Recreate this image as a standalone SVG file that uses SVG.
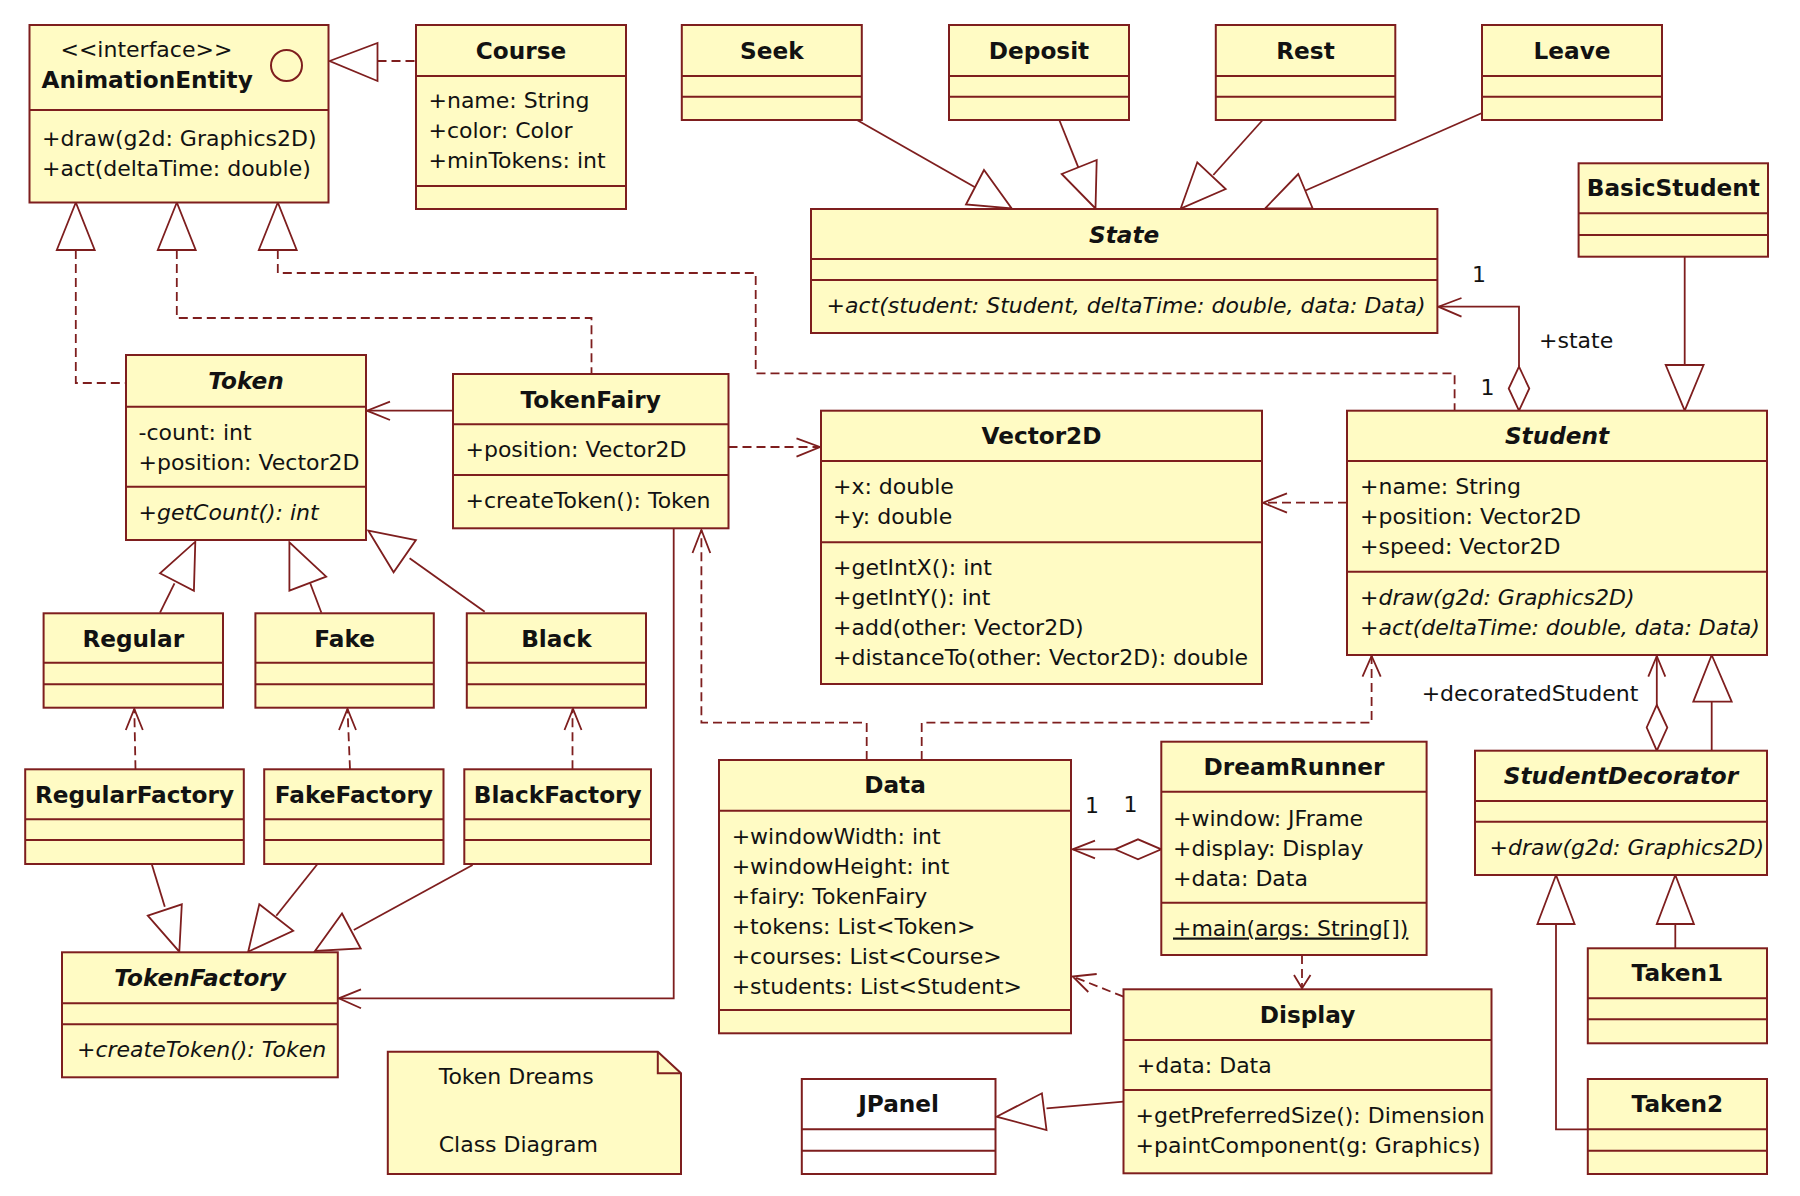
<svg xmlns="http://www.w3.org/2000/svg" width="1800" height="1196" viewBox="0 0 1800 1196">
<style>
  .cls { fill:#FFFBC4; stroke:#7E1E1E; stroke-width:2; }
  .lib { fill:#FFFFFF; stroke:#7E1E1E; stroke-width:2; }
  .sep { stroke:#7E1E1E; stroke-width:2; fill:none; }
  text { font-family:"DejaVu Sans", "Liberation Sans", sans-serif; font-size:22px; fill:#121212; }
  .n { font-weight:bold; font-size:23.2px; text-anchor:middle; }
  .b { font-weight:bold; font-size:23.2px; }
  .i { font-style:italic; }
  .u { text-decoration:underline; }
  .ln { fill:none; stroke:#7E1E1E; stroke-width:1.8; }
  .dash { stroke-dasharray:9 5; }
  .tri { fill:#FFFFFF; stroke:#7E1E1E; stroke-width:1.8; stroke-linejoin:miter; }
</style>
<rect width="1800" height="1196" fill="#FFFFFF"/>

<!-- connectors -->
<g id="connectors">
  <!-- Course realizes AnimationEntity -->
  <path class="ln dash" d="M377.5,61 H416"/>
  <polygon class="tri" points="329.6,61 377.5,43 377.5,81"/>
  <!-- Token realizes AnimationEntity -->
  <path class="ln dash" d="M75.8,250 V383 H126"/>
  <polygon class="tri" points="75.8,202.5 56.8,250 94.7,250"/>
  <!-- TokenFairy realizes AnimationEntity -->
  <path class="ln dash" d="M176.8,250 V318 H591.5 V374"/>
  <polygon class="tri" points="176.8,202.5 157.8,250 195.7,250"/>
  <!-- Student realizes AnimationEntity -->
  <path class="ln dash" d="M277.8,250 V273 H755.7 V373.3 H1454.6 V410.7"/>
  <polygon class="tri" points="277.8,202.5 258.8,250 296.7,250"/>

  <!-- states extend State -->
  <path class="ln" d="M857,120 L975,187.3"/>
  <polygon class="tri" points="984,170 966,204.5 1011.7,208.5"/>
  <path class="ln" d="M1059.3,120 L1078.3,167.3"/>
  <polygon class="tri" points="1061.7,174 1096.7,160 1095.5,208.5"/>
  <path class="ln" d="M1262.7,120 L1213.3,175"/>
  <polygon class="tri" points="1197.3,162.3 1225.7,189 1180.7,208.5"/>
  <path class="ln" d="M1482,113 L1305,190.7"/>
  <polygon class="tri" points="1298.3,174 1265,208.5 1312.7,208.5"/>

  <!-- Student has a State -->
  <path class="ln" d="M1519,366.7 V306.7 H1438.4"/>
  <path class="ln" d="M1461.5,298 L1438.4,306.7 L1461.5,316.7"/>
  <polygon class="tri" points="1519,366.7 1529.3,388.5 1519,410.7 1508.7,388.5"/>
  <text x="1472" y="281.5">1</text>
  <text x="1539" y="348">+state</text>
  <text x="1480.5" y="395">1</text>

  <!-- BasicStudent extends Student -->
  <path class="ln" d="M1684.7,256.7 V365"/>
  <polygon class="tri" points="1665.7,365 1703.6,365 1684.7,410.7"/>

  <!-- TokenFairy uses Token -->
  <path class="ln" d="M453,410.7 H367"/>
  <path class="ln" d="M390,401.7 L367,410.7 L390,420"/>

  <!-- TokenFairy depends on Vector2D -->
  <path class="ln dash" d="M728.5,447 H820"/>
  <path class="ln" d="M796.5,438.3 L820,447 L796.5,456.7"/>

  <!-- Student depends on Vector2D -->
  <path class="ln dash" d="M1347,502.7 H1263"/>
  <path class="ln" d="M1287,493.3 L1263,502.7 L1287,512.7"/>

  <!-- token kinds extend Token -->
  <path class="ln" d="M160,612.7 L174.5,583.3"/>
  <polygon class="tri" points="160,573.3 193.9,590.7 195.3,541.7"/>
  <path class="ln" d="M321.4,612.7 L310.2,583.3"/>
  <polygon class="tri" points="289.4,542.3 289.4,590.7 326.2,576.7"/>
  <path class="ln" d="M484.7,611.7 L409.6,558.3"/>
  <polygon class="tri" points="368.4,530.7 415.9,540 393.6,572.3"/>

  <!-- factories create their token kinds -->
  <path class="ln dash" d="M135.5,769.3 L134.3,709"/>
  <path class="ln" d="M125.8,730 L134.3,709 L142.8,730"/>
  <path class="ln dash" d="M350,769.3 L347.5,709"/>
  <path class="ln" d="M339,730 L347.5,709 L356,730"/>
  <path class="ln dash" d="M572.5,769.3 V709"/>
  <path class="ln" d="M564.5,730 L573,709 L581.5,730"/>

  <!-- factories extend TokenFactory -->
  <path class="ln" d="M151.7,864 L164.8,906.7"/>
  <polygon class="tri" points="147.8,915.7 181.8,904.3 179.3,951.7"/>
  <path class="ln" d="M317.5,864 L276.3,915.7"/>
  <polygon class="tri" points="259.3,904.3 293.2,930.7 248.2,951.7"/>
  <path class="ln" d="M472.6,865 L353.8,930"/>
  <polygon class="tri" points="342,913.5 360.7,948.5 315,951"/>

  <!-- TokenFairy uses TokenFactory -->
  <path class="ln" d="M673.7,528.3 V998.3 H338.8"/>
  <path class="ln" d="M361,989.3 L338.8,998.3 L361,1008.3"/>

  <!-- Data depends on TokenFairy and Student -->
  <path class="ln dash" d="M866.7,760 V722.7 H701.4 V530"/>
  <path class="ln" d="M692.5,553 L701.4,530 L710.3,553"/>
  <path class="ln dash" d="M921.7,760 V722.7 H1371.6 V656"/>
  <path class="ln" d="M1362.5,676.7 L1371.6,656 L1380.7,676.7"/>

  <!-- StudentDecorator wraps a Student -->
  <path class="ln" d="M1656.8,656 V705"/>
  <path class="ln" d="M1648.3,676.7 L1656.8,656 L1665.3,676.7"/>
  <polygon class="tri" points="1656.8,705 1667.3,727.5 1656.8,750.7 1646.7,727.5"/>
  <text x="1421.7" y="701">+decoratedStudent</text>

  <!-- StudentDecorator extends Student -->
  <path class="ln" d="M1711.7,701.7 V750.7"/>
  <polygon class="tri" points="1711.7,655 1693.3,701.7 1731.7,701.7"/>

  <!-- DreamRunner holds Data -->
  <path class="ln" d="M1072.7,849.3 H1114.9"/>
  <path class="ln" d="M1095,840.7 L1072.7,849.3 L1095,858.3"/>
  <polygon class="tri" points="1114.9,849.3 1138,839.3 1161.3,849.3 1138,859.3"/>
  <text x="1085" y="813">1</text>
  <text x="1123.5" y="811.5">1</text>

  <!-- DreamRunner depends on Display -->
  <path class="ln dash" d="M1302,955 V988.3"/>
  <path class="ln" d="M1294,975 L1302,988.3 L1310.5,975"/>

  <!-- Display depends on Data -->
  <path class="ln dash" d="M1123.5,996.7 L1072.7,976.5"/>
  <path class="ln" d="M1096.7,974 L1072.7,976.5 L1088.3,992"/>

  <!-- Display extends JPanel -->
  <path class="ln" d="M1123.5,1101.7 L1046.5,1108.3"/>
  <polygon class="tri" points="996.5,1116.7 1041.9,1093.3 1046.5,1130"/>

  <!-- Taken1 and Taken2 extend StudentDecorator -->
  <path class="ln" d="M1675.3,948.3 V924"/>
  <polygon class="tri" points="1656.8,924 1693.9,924 1675.3,875"/>
  <path class="ln" d="M1587.8,1129.3 H1556 V924"/>
  <polygon class="tri" points="1537.4,924 1574.6,924 1556,875"/>
</g>

<!-- classes -->
<g id="AnimationEntity">
  <rect class="cls" x="29.5" y="25" width="299" height="177.5"/>
  <path class="sep" d="M29.5,110 H328.5"/>
  <text x="60.5" y="57">&lt;&lt;interface&gt;&gt;</text>
  <text class="b" x="41.5" y="88">AnimationEntity</text>
  <circle cx="286.5" cy="65.5" r="15.5" fill="none" stroke="#7E1E1E" stroke-width="2"/>
  <text x="42" y="146">+draw(g2d: Graphics2D)</text>
  <text x="42" y="176">+act(deltaTime: double)</text>
</g>

<g id="Course">
  <rect class="cls" x="416" y="25" width="210" height="184"/>
  <path class="sep" d="M416,76 H626 M416,186 H626"/>
  <text class="n" x="521" y="58.5">Course</text>
  <text x="428.5" y="108">+name: String</text>
  <text x="428.5" y="138">+color: Color</text>
  <text x="428.5" y="168">+minTokens: int</text>
</g>

<g id="Seek">
  <rect class="cls" x="681.8" y="25" width="180" height="95"/>
  <path class="sep" d="M681.8,76 H861.8 M681.8,96.7 H861.8"/>
  <text class="n" x="771.8" y="58.5">Seek</text>
</g>

<g id="Deposit">
  <rect class="cls" x="949" y="25" width="180" height="95"/>
  <path class="sep" d="M949,76 H1129 M949,96.7 H1129"/>
  <text class="n" x="1039" y="58.5">Deposit</text>
</g>

<g id="Rest">
  <rect class="cls" x="1215.8" y="25" width="179.5" height="95"/>
  <path class="sep" d="M1215.8,76 H1395.3 M1215.8,96.7 H1395.3"/>
  <text class="n" x="1305.5" y="58.5">Rest</text>
</g>

<g id="Leave">
  <rect class="cls" x="1482" y="25" width="180" height="95"/>
  <path class="sep" d="M1482,76 H1662 M1482,96.7 H1662"/>
  <text class="n" x="1572" y="58.5">Leave</text>
</g>

<g id="State">
  <rect class="cls" x="811" y="209" width="626.4" height="124"/>
  <path class="sep" d="M811,259 H1437.4 M811,280 H1437.4"/>
  <text class="n i" x="1124.2" y="242.5">State</text>
  <text class="i" x="826.5" y="313">+act(student: Student, deltaTime: double, data: Data)</text>
</g>

<g id="BasicStudent">
  <rect class="cls" x="1578.6" y="163.3" width="189.4" height="93.4"/>
  <path class="sep" d="M1578.6,213.3 H1768 M1578.6,235 H1768"/>
  <text class="n" x="1673.3" y="196">BasicStudent</text>
</g>

<g id="Token">
  <rect class="cls" x="126" y="355" width="240" height="185"/>
  <path class="sep" d="M126,406.7 H366 M126,486.7 H366"/>
  <text class="n i" x="246" y="389">Token</text>
  <text x="138.5" y="439.5">-count: int</text>
  <text x="138.5" y="469.5">+position: Vector2D</text>
  <text class="i" x="138.5" y="519.5">+getCount(): int</text>
</g>

<g id="TokenFairy">
  <rect class="cls" x="453" y="374" width="275.5" height="154.3"/>
  <path class="sep" d="M453,424.3 H728.5 M453,475 H728.5"/>
  <text class="n" x="590.7" y="407.5">TokenFairy</text>
  <text x="465.5" y="457">+position: Vector2D</text>
  <text x="465.5" y="508">+createToken(): Token</text>
</g>

<g id="Vector2D">
  <rect class="cls" x="821" y="410.7" width="441" height="273.3"/>
  <path class="sep" d="M821,461 H1262 M821,542.3 H1262"/>
  <text class="n" x="1041.5" y="444">Vector2D</text>
  <text x="833" y="494">+x: double</text>
  <text x="833" y="524">+y: double</text>
  <text x="833" y="575">+getIntX(): int</text>
  <text x="833" y="605">+getIntY(): int</text>
  <text x="833" y="635">+add(other: Vector2D)</text>
  <text x="833" y="665">+distanceTo(other: Vector2D): double</text>
</g>

<g id="Student">
  <rect class="cls" x="1347" y="410.7" width="420" height="244.3"/>
  <path class="sep" d="M1347,461 H1767 M1347,571.7 H1767"/>
  <text class="n i" x="1557" y="444">Student</text>
  <text x="1360" y="494">+name: String</text>
  <text x="1360" y="524">+position: Vector2D</text>
  <text x="1360" y="554">+speed: Vector2D</text>
  <text class="i" x="1360" y="604.5">+draw(g2d: Graphics2D)</text>
  <text class="i" x="1360" y="634.5">+act(deltaTime: double, data: Data)</text>
</g>

<g id="Regular">
  <rect class="cls" x="43.6" y="613.3" width="179.4" height="94.4"/>
  <path class="sep" d="M43.6,662.7 H223 M43.6,684.3 H223"/>
  <text class="n" x="133.3" y="647">Regular</text>
</g>

<g id="Fake">
  <rect class="cls" x="255.4" y="613.3" width="178.4" height="94.4"/>
  <path class="sep" d="M255.4,662.7 H433.8 M255.4,684.3 H433.8"/>
  <text class="n" x="344.6" y="647">Fake</text>
</g>

<g id="Black">
  <rect class="cls" x="466.8" y="613.3" width="179.2" height="94.4"/>
  <path class="sep" d="M466.8,662.7 H646 M466.8,684.3 H646"/>
  <text class="n" x="556.4" y="647">Black</text>
</g>

<g id="RegularFactory">
  <rect class="cls" x="25.2" y="769.3" width="218.6" height="94.7"/>
  <path class="sep" d="M25.2,819.3 H243.8 M25.2,840 H243.8"/>
  <text class="n" x="134.5" y="803">RegularFactory</text>
</g>

<g id="FakeFactory">
  <rect class="cls" x="264.2" y="769.3" width="179.3" height="94.7"/>
  <path class="sep" d="M264.2,819.3 H443.5 M264.2,840 H443.5"/>
  <text class="n" x="353.9" y="803">FakeFactory</text>
</g>

<g id="BlackFactory">
  <rect class="cls" x="464.3" y="769.3" width="186.7" height="94.7"/>
  <path class="sep" d="M464.3,819.3 H651 M464.3,840 H651"/>
  <text class="n" x="557.7" y="803">BlackFactory</text>
</g>

<g id="TokenFactory">
  <rect class="cls" x="62" y="952.3" width="275.8" height="125"/>
  <path class="sep" d="M62,1003.3 H337.8 M62,1024.3 H337.8"/>
  <text class="n i" x="200" y="986">TokenFactory</text>
  <text class="i" x="77" y="1057">+createToken(): Token</text>
</g>

<g id="note">
  <path class="cls" d="M387.8,1051.7 H657.8 L681,1073.3 V1174 H387.8 Z"/>
  <path class="sep" d="M657.8,1051.7 V1073.3 H681"/>
  <text x="438.7" y="1084">Token Dreams</text>
  <text x="438.7" y="1152">Class Diagram</text>
</g>

<g id="Data">
  <rect class="cls" x="719" y="760" width="352" height="273.3"/>
  <path class="sep" d="M719,810.7 H1071 M719,1010 H1071"/>
  <text class="n" x="895" y="793">Data</text>
  <text x="731.7" y="843.5">+windowWidth: int</text>
  <text x="731.7" y="873.5">+windowHeight: int</text>
  <text x="731.7" y="903.5">+fairy: TokenFairy</text>
  <text x="731.7" y="933.5">+tokens: List&lt;Token&gt;</text>
  <text x="731.7" y="963.5">+courses: List&lt;Course&gt;</text>
  <text x="731.7" y="993.5">+students: List&lt;Student&gt;</text>
</g>

<g id="DreamRunner">
  <rect class="cls" x="1161.3" y="741.7" width="265.3" height="213.3"/>
  <path class="sep" d="M1161.3,791.7 H1426.6 M1161.3,902.7 H1426.6"/>
  <text class="n" x="1294" y="775">DreamRunner</text>
  <text x="1173" y="825.5">+window: JFrame</text>
  <text x="1173" y="855.5">+display: Display</text>
  <text x="1173" y="885.5">+data: Data</text>
  <text class="u" x="1173" y="935.5">+main(args: String[])</text>
</g>

<g id="Display">
  <rect class="cls" x="1123.5" y="989.3" width="368" height="184"/>
  <path class="sep" d="M1123.5,1040 H1491.5 M1123.5,1090 H1491.5"/>
  <text class="n" x="1307.5" y="1023">Display</text>
  <text x="1136.8" y="1073">+data: Data</text>
  <text x="1135.5" y="1123" font-size="21.7">+getPreferredSize(): Dimension</text>
  <text x="1135.5" y="1153">+paintComponent(g: Graphics)</text>
</g>

<g id="JPanel">
  <rect class="lib" x="801.8" y="1079" width="193.7" height="95"/>
  <path class="sep" d="M801.8,1129.3 H995.5 M801.8,1150.7 H995.5"/>
  <text class="n" x="898.6" y="1112">JPanel</text>
</g>

<g id="StudentDecorator">
  <rect class="cls" x="1475" y="750.7" width="292" height="124.3"/>
  <path class="sep" d="M1475,801 H1767 M1475,821.7 H1767"/>
  <text class="n i" x="1621" y="784">StudentDecorator</text>
  <text class="i" x="1489.6" y="854.5">+draw(g2d: Graphics2D)</text>
</g>

<g id="Taken1">
  <rect class="cls" x="1587.8" y="948.3" width="179.2" height="95"/>
  <path class="sep" d="M1587.8,998.3 H1767 M1587.8,1019.3 H1767"/>
  <text class="n" x="1677.4" y="981">Taken1</text>
</g>

<g id="Taken2">
  <rect class="cls" x="1587.8" y="1079" width="179.2" height="95"/>
  <path class="sep" d="M1587.8,1129.3 H1767 M1587.8,1150.7 H1767"/>
  <text class="n" x="1677.4" y="1112">Taken2</text>
</g>
</svg>
